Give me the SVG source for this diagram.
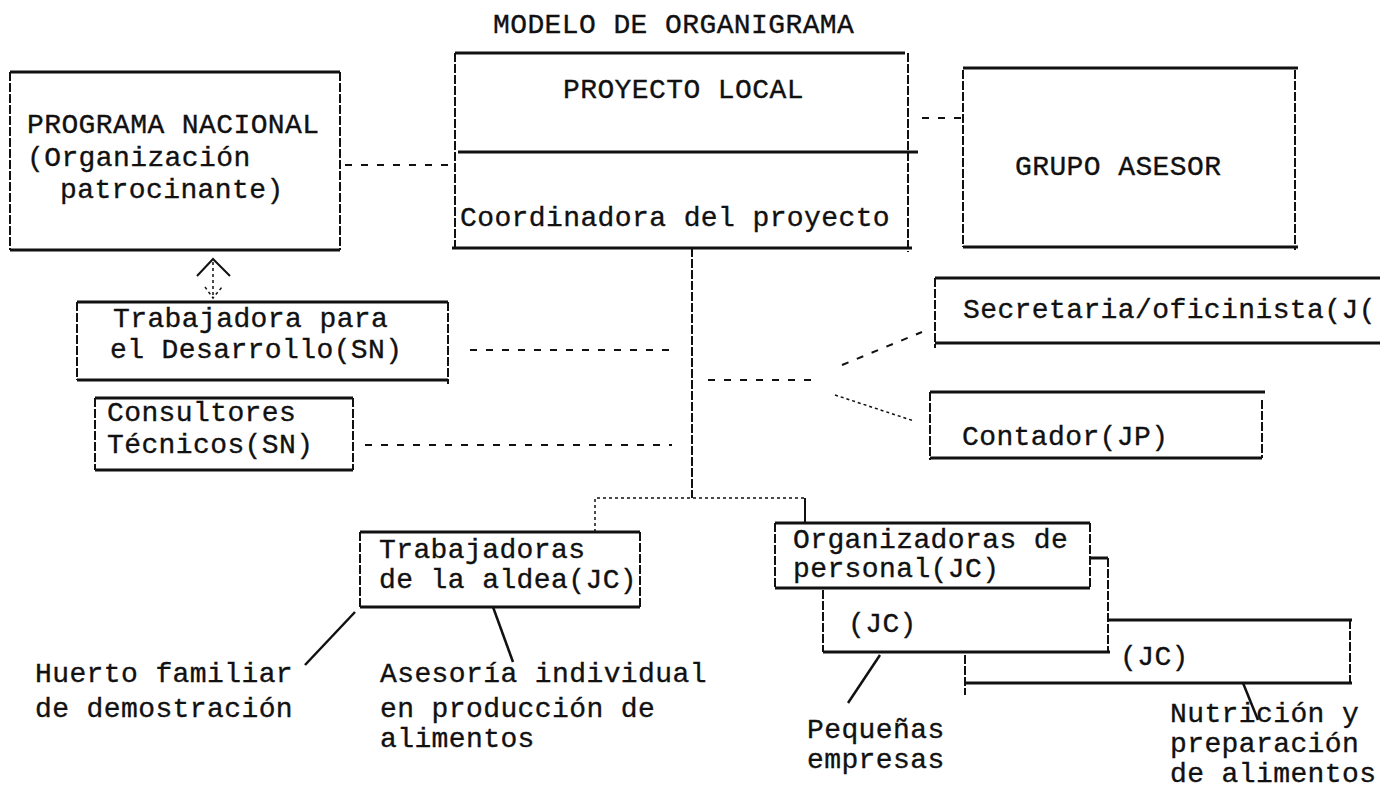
<svg xmlns="http://www.w3.org/2000/svg" width="1380" height="806" viewBox="0 0 1380 806">
<style>
  text { font-family: "Liberation Mono", "Courier New", monospace; font-size: 28px; letter-spacing: 0.4px; fill: #111; stroke: #111; stroke-width: 0.35px; }
  .h { stroke: #111; stroke-width: 3; fill: none; }
  .v { stroke: #111; stroke-width: 2; fill: none; stroke-dasharray: 9 2; }
  .bg { fill: #fff; stroke: none; }
  .d { stroke: #111; stroke-width: 2; fill: none; stroke-dasharray: 7 9; }
  .dot { stroke: #111; stroke-width: 1.5; fill: none; stroke-dasharray: 3 3; }
  .solid { stroke: #111; stroke-width: 2; fill: none; }
  .lead { stroke: #111; stroke-width: 2.5; fill: none; }
</style>
<rect width="1380" height="806" fill="#fff"/>
<text id="title" x="493" y="33">MODELO DE ORGANIGRAMA</text>

<g id="connectors">
  <line class="d" x1="345" y1="165" x2="452" y2="165"/>
  <line class="d" x1="922" y1="118" x2="963" y2="118" stroke-dasharray="6 4"/>
  <line class="v" x1="692" y1="248" x2="692" y2="498"/>
  <line class="d" x1="470" y1="350" x2="675" y2="350"/>
  <line class="d" x1="365" y1="445" x2="672" y2="445"/>
  <line class="d" x1="708" y1="380" x2="818" y2="380" stroke-dasharray="8 6"/>
  <line class="d" x1="842" y1="365" x2="922" y2="332" stroke-dasharray="8 5"/>
  <line class="dot" x1="835" y1="395" x2="914" y2="421"/>
  <polyline class="dot" points="595,532 595,498 805,498"/>
  <line class="solid" x1="805" y1="498" x2="805" y2="523" stroke-width="3"/>
  <line class="dot" x1="213" y1="262" x2="213" y2="297"/>
  <polyline class="solid" points="197,276 213,259 230,276" stroke-width="3"/>
  <polyline class="dot" points="205,287 213,298 222,287"/>
  <line class="lead" x1="355" y1="612" x2="305" y2="665"/>
  <line class="lead" x1="493" y1="607" x2="513" y2="662"/>
  <line class="lead" x1="880" y1="655" x2="848" y2="703"/>
  <line class="lead" x1="1243" y1="683" x2="1258" y2="720"/>
</g>

<g id="programa-nacional">
  <line class="h" x1="10" y1="72" x2="340" y2="72"/>
  <line class="h" x1="10" y1="250" x2="340" y2="250"/>
  <line class="v" x1="10" y1="72" x2="10" y2="250"/>
  <line class="v" x1="340" y1="72" x2="340" y2="250"/>
  <text x="27" y="133">PROGRAMA NACIONAL</text>
  <text x="27" y="166">(Organización</text>
  <text x="60" y="198">patrocinante)</text>
</g>

<g id="proyecto-local">
  <line class="h" x1="455" y1="53" x2="905" y2="53"/>
  <line class="h" x1="458" y1="152" x2="918" y2="152"/>
  <line class="h" x1="452" y1="248" x2="912" y2="248"/>
  <line class="v" x1="455" y1="53" x2="455" y2="248"/>
  <line class="v" x1="908" y1="53" x2="908" y2="252"/>
  <text x="563" y="98">PROYECTO LOCAL</text>
  <text x="460" y="226">Coordinadora del proyecto</text>
</g>

<g id="grupo-asesor">
  <line class="h" x1="963" y1="68" x2="1298" y2="68"/>
  <line class="h" x1="963" y1="247" x2="1298" y2="247"/>
  <line class="v" x1="963" y1="70" x2="963" y2="247"/>
  <line class="v" x1="1295" y1="70" x2="1295" y2="250"/>
  <text x="1015" y="175">GRUPO ASESOR</text>
</g>

<g id="trabajadora-desarrollo">
  <line class="h" x1="77" y1="302" x2="448" y2="302"/>
  <line class="h" x1="77" y1="380" x2="448" y2="380"/>
  <line class="v" x1="77" y1="302" x2="77" y2="380"/>
  <line class="v" x1="448" y1="302" x2="448" y2="384"/>
  <text x="113" y="327">Trabajadora para</text>
  <text x="110" y="358">el Desarrollo(SN)</text>
</g>

<g id="consultores">
  <line class="h" x1="95" y1="398" x2="353" y2="398"/>
  <line class="h" x1="95" y1="470" x2="353" y2="470"/>
  <line class="v" x1="95" y1="398" x2="95" y2="470"/>
  <line class="v" x1="353" y1="398" x2="353" y2="470"/>
  <text x="107" y="421">Consultores</text>
  <text x="107" y="453">Técnicos(SN)</text>
</g>

<g id="secretaria">
  <line class="h" x1="935" y1="278" x2="1380" y2="278"/>
  <line class="h" x1="935" y1="343" x2="1380" y2="343"/>
  <line class="v" x1="935" y1="278" x2="935" y2="348"/>
  <text x="963" y="318">Secretaria/oficinista(J(</text>
</g>

<g id="contador">
  <line class="h" x1="930" y1="392" x2="1265" y2="392"/>
  <line class="h" x1="930" y1="458" x2="1262" y2="458"/>
  <line class="v" x1="930" y1="392" x2="930" y2="460"/>
  <line class="v" x1="1262" y1="400" x2="1262" y2="458"/>
  <text x="962" y="445">Contador(JP)</text>
</g>

<g id="trabajadoras-aldea">
  <rect class="bg" x="360" y="532" width="280" height="75"/>
  <line class="h" x1="360" y1="532" x2="640" y2="532"/>
  <line class="h" x1="360" y1="607" x2="640" y2="607"/>
  <line class="v" x1="360" y1="532" x2="360" y2="607"/>
  <line class="v" x1="640" y1="532" x2="640" y2="607"/>
  <text x="379" y="558">Trabajadoras</text>
  <text x="379" y="588">de la aldea(JC)</text>
</g>

<g id="jc-nutricion">
  <rect class="bg" x="965" y="620" width="385" height="63"/>
  <line class="h" x1="1108" y1="620" x2="1352" y2="620"/>
  <line class="h" x1="965" y1="683" x2="1352" y2="683"/>
  <line class="v" x1="965" y1="655" x2="965" y2="695"/>
  <line class="v" x1="1350" y1="620" x2="1350" y2="683"/>
  <text x="1120" y="665">(JC)</text>
</g>

<g id="jc-empresas">
  <rect class="bg" x="823" y="558" width="285" height="94"/>
  <line class="h" x1="1090" y1="558" x2="1108" y2="558"/>
  <line class="h" x1="823" y1="652" x2="1110" y2="652"/>
  <line class="v" x1="823" y1="590" x2="823" y2="652"/>
  <line class="v" x1="1108" y1="558" x2="1108" y2="652"/>
  <text x="848" y="632">(JC)</text>
</g>

<g id="organizadoras">
  <rect class="bg" x="775" y="523" width="315" height="65"/>
  <line class="h" x1="775" y1="523" x2="1090" y2="523"/>
  <line class="h" x1="775" y1="588" x2="1090" y2="588"/>
  <line class="v" x1="775" y1="523" x2="775" y2="588"/>
  <line class="v" x1="1090" y1="523" x2="1090" y2="588"/>
  <text x="793" y="548">Organizadoras de</text>
  <text x="793" y="577">personal(JC)</text>
</g>

<g id="labels">
  <text x="35" y="682">Huerto familiar</text>
  <text x="35" y="717">de demostración</text>
  <text x="380" y="682">Asesoría individual</text>
  <text x="380" y="717">en producción de</text>
  <text x="380" y="747">alimentos</text>
  <text x="807" y="738">Pequeñas</text>
  <text x="807" y="768">empresas</text>
  <text x="1170" y="722">Nutrición y</text>
  <text x="1170" y="752">preparación</text>
  <text x="1170" y="782">de alimentos</text>
</g>
</svg>
